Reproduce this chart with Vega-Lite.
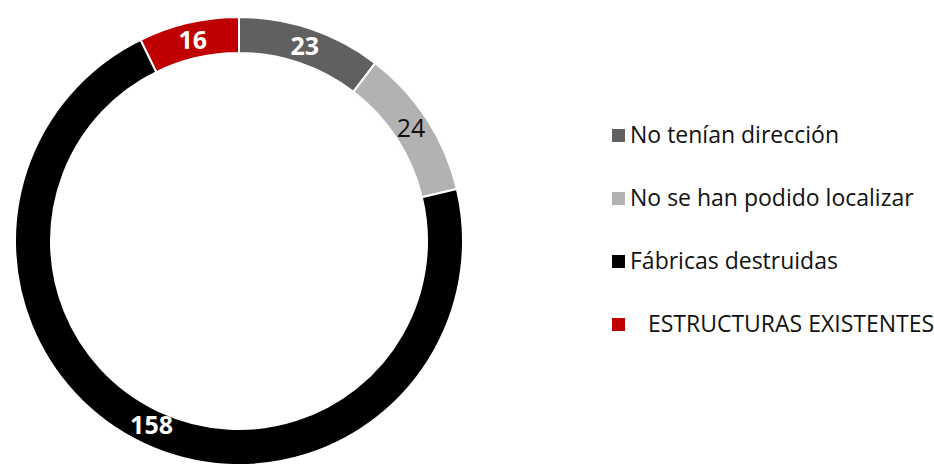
{
  "$schema": "https://vega.github.io/schema/vega-lite/v6.json",
  "width": 478,
  "height": 482,
  "padding": 0,
  "background": "white",
  "view": {"stroke": null},
  "data": {
    "values": [
      {"categoria": "No tenían dirección", "valor": 23, "orden": 1},
      {"categoria": "No se han podido localizar", "valor": 24, "orden": 2},
      {"categoria": "Fábricas destruidas", "valor": 158, "orden": 3},
      {"categoria": "ESTRUCTURAS EXISTENTES", "valor": 16, "orden": 4}
    ]
  },
  "encoding": {
    "theta": {"field": "valor", "type": "quantitative", "stack": true},
    "order": {"field": "orden", "type": "quantitative"}
  },
  "layer": [
    {
      "mark": {"type": "arc", "innerRadius": 188, "outerRadius": 224, "stroke": "white", "strokeWidth": 2},
      "encoding": {
        "color": {
          "field": "categoria",
          "type": "nominal",
          "scale": {
            "domain": ["No tenían dirección", "No se han podido localizar", "Fábricas destruidas", "ESTRUCTURAS EXISTENTES"],
            "range": ["#606060", "#b2b2b2", "#000000", "#c00000"]
          },
          "legend": {
            "title": null,
            "orient": "none",
            "legendX": 607,
            "legendY": 124,
            "symbolType": "square",
            "symbolSize": 169,
            "symbolStrokeWidth": 0,
            "labelFont": "Open Sans",
            "labelFontSize": 23,
            "labelColor": "#111111",
            "labelOffset": 0,
            "rowPadding": 39,
            "labelLimit": 400,
            "labelExpr": "test(/ESTRUCTURAS/, datum.label) ? '\u200b\u00a0\u00a0\u00a0' + datum.label : datum.label"
          }
        }
      }
    },
    {
      "mark": {"type": "text", "radius": 205, "font": "Open Sans", "fontWeight": "bold", "fontSize": 25, "color": "white"},
      "encoding": {
        "text": {
          "condition": {"test": "datum.categoria == 'No se han podido localizar'", "value": ""},
          "field": "valor", "type": "quantitative"
        }
      }
    },
    {
      "mark": {"type": "text", "radius": 205, "font": "Open Sans", "fontSize": 25, "color": "#111111"},
      "encoding": {
        "text": {
          "condition": {"test": "datum.categoria != 'No se han podido localizar'", "value": ""},
          "field": "valor", "type": "quantitative"
        }
      }
    }
  ]
}
